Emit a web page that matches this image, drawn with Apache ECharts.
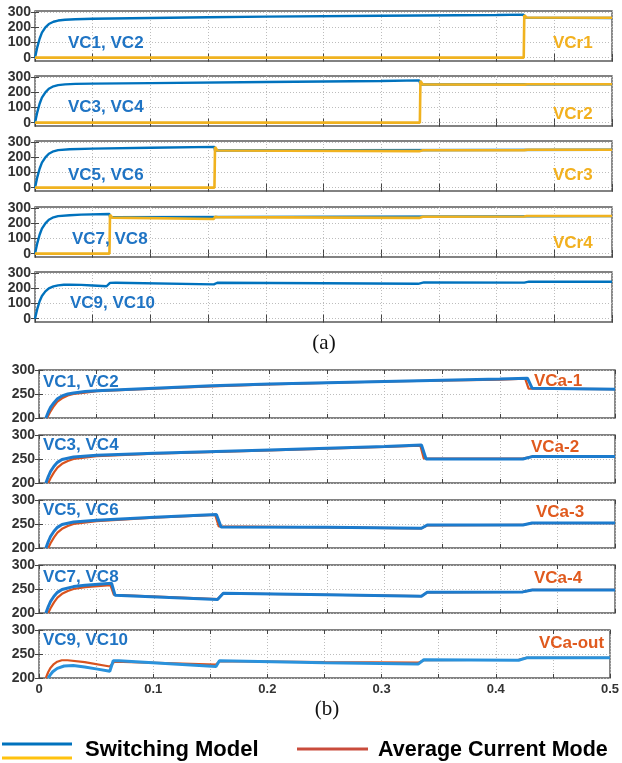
<!DOCTYPE html>
<html><head><meta charset="utf-8">
<script src="https://cdn.jsdelivr.net/npm/echarts@6/dist/echarts.min.js"></script>
<style>html,body{margin:0;padding:0;background:#fff}#c{width:622px;height:763px}</style>
</head><body><div id="c"></div>
<script>
// ---- tick labels ----
const xTickLabels = [0, 0.1, 0.2, 0.3, 0.4, 0.5];
const yTicksA = [0, 100, 200, 300];
const yTicksB = [200, 250, 300];

// ---- panel annotations ----
const namesA = ['VC1, VC2', 'VC3, VC4', 'VC5, VC6', 'VC7, VC8', 'VC9, VC10'];
const namesAr = ['VCr1', 'VCr2', 'VCr3', 'VCr4', ''];
const namesB = ['VC1, VC2', 'VC3, VC4', 'VC5, VC6', 'VC7, VC8', 'VC9, VC10'];
const namesBa = ['VCa-1', 'VCa-2', 'VCa-3', 'VCa-4', 'VCa-out'];
const legendNames = ['Switching Model', 'Average Current Mode'];

// ---- (a) switching model capacitor voltages [t (s), V] ----
const a1Switch = [[0,0],[0.002,70],[0.004,125],[0.006,165],[0.009,200],[0.012,222],[0.016,237],[0.02,245],[0.026,250],[0.035,254],[0.05,257],[0.1,262],[0.15,267],[0.2,271],[0.3,277],[0.4,282],[0.4235,284],[0.424,264],[0.5,262]];
const a1Res = [[0,0],[0.4235,0],[0.424,280],[0.426,265],[0.5,263]];
const a2Switch = [[0,0],[0.002,70],[0.004,125],[0.006,165],[0.009,200],[0.012,224],[0.016,240],[0.02,248],[0.026,253],[0.035,256],[0.05,258],[0.1,261],[0.2,268],[0.3,275],[0.333,279],[0.334,252],[0.5,254]];
const a2Res = [[0,0],[0.3335,0],[0.334,276],[0.336,252],[0.424,251],[0.425,260],[0.427,254],[0.5,254]];
const a3Switch = [[0,0],[0.002,70],[0.004,125],[0.006,165],[0.009,200],[0.012,224],[0.016,240],[0.02,248],[0.03,254],[0.05,258],[0.1,263],[0.1555,269],[0.156,245],[0.5,250]];
const a3Res = [[0,0],[0.1555,0],[0.156,268],[0.158,245],[0.333,241],[0.334,252],[0.336,247],[0.424,248],[0.425,255],[0.427,250],[0.5,250]];
const a4Switch = [[0,0],[0.002,70],[0.004,125],[0.006,165],[0.009,200],[0.012,224],[0.016,240],[0.02,248],[0.03,254],[0.04,258],[0.0645,262],[0.065,240],[0.5,248]];
const a4Res = [[0,0],[0.0645,0],[0.065,256],[0.067,238],[0.155,229],[0.156,243],[0.158,241],[0.333,236],[0.334,247],[0.336,244],[0.424,245],[0.426,249],[0.5,249]];
const a5Switch = [[0,0],[0.002,65],[0.004,115],[0.006,150],[0.009,180],[0.012,200],[0.016,213],[0.02,220],[0.025,224],[0.03,225],[0.04,223],[0.05,219],[0.062,214],[0.065,236],[0.07,237],[0.155,226],[0.158,237],[0.25,234],[0.332,230],[0.337,239],[0.424,238],[0.428,244],[0.5,244]];

// ---- (b) zoomed: switching model vs average current mode [t (s), V] ----
const b1Switch = [[0.006,200],[0.008,212],[0.01,222],[0.013,232],[0.016,240],[0.02,246],[0.025,250],[0.03,252],[0.04,255],[0.05,257],[0.1,262],[0.15,267],[0.2,271],[0.3,276],[0.4,281],[0.424,283],[0.428,262],[0.5,260]];
const b1Avg = [[0.007,200],[0.01,214],[0.013,225],[0.016,234],[0.02,241],[0.025,247],[0.03,250],[0.04,253],[0.05,256],[0.1,261],[0.15,266],[0.2,270],[0.3,276],[0.4,280],[0.422,282],[0.425,261],[0.5,260]];
const b2Switch = [[0.006,200],[0.008,213],[0.01,224],[0.013,235],[0.016,243],[0.02,249],[0.03,254],[0.05,258],[0.1,262],[0.2,269],[0.3,276],[0.332,279],[0.336,250],[0.42,250],[0.428,255],[0.5,255]];
const b2Avg = [[0.008,200],[0.01,210],[0.013,222],[0.016,232],[0.02,240],[0.025,246],[0.03,250],[0.05,256],[0.1,261],[0.2,268],[0.3,275],[0.331,278],[0.334,251],[0.42,251],[0.428,255],[0.5,255]];
const b3Switch = [[0.006,200],[0.008,213],[0.01,224],[0.013,235],[0.016,243],[0.02,249],[0.03,254],[0.05,258],[0.1,264],[0.154,270],[0.158,244],[0.25,243],[0.332,241],[0.337,248],[0.42,248],[0.428,252],[0.5,252]];
const b3Avg = [[0.008,200],[0.01,210],[0.013,222],[0.016,232],[0.02,240],[0.025,246],[0.03,250],[0.05,256],[0.1,263],[0.153,269],[0.156,245],[0.25,243],[0.332,241],[0.337,247],[0.42,248],[0.428,252],[0.5,252]];
const b4Switch = [[0.006,200],[0.008,213],[0.01,224],[0.013,235],[0.016,243],[0.02,249],[0.03,255],[0.04,258],[0.063,262],[0.066,237],[0.155,228],[0.16,241],[0.25,238],[0.332,235],[0.337,243],[0.42,244],[0.428,248],[0.5,248]];
const b4Avg = [[0.008,200],[0.01,210],[0.013,222],[0.016,232],[0.02,240],[0.025,246],[0.03,250],[0.04,254],[0.062,258],[0.065,238],[0.155,229],[0.16,241],[0.25,238],[0.332,235],[0.337,243],[0.42,244],[0.428,248],[0.5,248]];
const b5Switch = [[0.008,200],[0.01,207],[0.012,213],[0.016,220],[0.022,225],[0.03,226],[0.04,223],[0.05,219],[0.062,214],[0.065,236],[0.07,236],[0.155,224],[0.158,236],[0.25,232],[0.332,229],[0.337,238],[0.42,237],[0.427,242],[0.5,242]];
const b5Avg = [[0.006,200],[0.008,212],[0.01,221],[0.013,229],[0.016,234],[0.02,237],[0.025,237],[0.04,233],[0.062,224],[0.066,234],[0.155,228],[0.158,235],[0.25,233],[0.332,232],[0.337,237],[0.42,238],[0.427,242],[0.5,242]];

const seriesA = [[a1Switch, a1Res], [a2Switch, a2Res], [a3Switch, a3Res], [a4Switch, a4Res], [a5Switch, null]];
const seriesB = [[b1Switch, b1Avg], [b2Switch, b2Avg], [b3Switch, b3Avg], [b4Switch, b4Avg], [b5Switch, b5Avg]];

// ---- styling / layout ----
const BLUE = '#0072BD', YEL = '#F0B21F', RED = '#D9531E', BLUE_B = '#1C7BCD';
const TXT_BLUE = '#1f74c4', TXT_YEL = '#F2B01E', TXT_RED = '#E05A1E';
const FONT = '"Liberation Sans", Arial, sans-serif';
const topsA = [11, 76, 141, 207, 272];
const topsB = [370, 435, 500, 565, 630];

const grids = [], xAxes = [], yAxes = [], series = [], graphics = [];
const splitStyle = {color: '#bdbdbd', width: 1, type: [1, 2]};
const tickStyle = {color: '#444', width: 1};

function addPanel(idx, top, h, left, w, ymin, ymax, yt, isLast) {
  grids.push({left: left, top: top, width: w, height: h, show: true, borderColor: '#5a5a5a', borderWidth: 1.4, backgroundColor: '#fff'});
  xAxes.push({type: 'value', gridIndex: idx, position: 'bottom', min: 0, max: 0.5, interval: 0.05,
    axisLine: {show: false}, axisTick: {show: true, inside: true, length: 4, lineStyle: tickStyle},
    axisLabel: {show: isLast, customValues: xTickLabels, formatter: v => String(v), fontWeight: 'bold', fontSize: 13, color: '#333', margin: 5, fontFamily: FONT, showMinLabel: true, showMaxLabel: true},
    splitLine: {show: true, lineStyle: splitStyle}});
  xAxes.push({type: 'value', gridIndex: idx, position: 'top', min: 0, max: 0.5, interval: 0.05,
    axisLine: {show: false}, axisTick: {show: true, inside: true, length: 4, lineStyle: tickStyle},
    axisLabel: {show: false}, splitLine: {show: false}});
  yAxes.push({type: 'value', gridIndex: idx, position: 'left', min: ymin, max: ymax,
    axisLine: {show: false}, axisTick: {show: true, inside: true, length: 4, lineStyle: tickStyle, customValues: yt},
    axisLabel: {customValues: yt, fontWeight: 'bold', fontSize: 14, color: '#333', margin: 4, fontFamily: FONT, showMinLabel: true, showMaxLabel: true},
    splitLine: {show: true, lineStyle: splitStyle}});
  yAxes.push({type: 'value', gridIndex: idx, position: 'right', min: ymin, max: ymax,
    axisLine: {show: false}, axisTick: {show: true, inside: true, length: 4, lineStyle: tickStyle, customValues: yt},
    axisLabel: {show: false}, splitLine: {show: false}});
}

function addLine(idx, data, color, width, z) {
  series.push({type: 'line', xAxisIndex: 2 * idx, yAxisIndex: 2 * idx, data: data, showSymbol: false, symbol: 'none',
    lineStyle: {color: color, width: width}, itemStyle: {color: color}, z: z, animation: false, silent: true});
}

function addText(x, y, text, color, font, align) {
  graphics.push({type: 'text', x: x, y: y, z: 100, style: {text: text, fill: color, font: font, textAlign: align || 'left', textVerticalAlign: 'middle', verticalAlign: 'middle'}});
}

// (a)
const nameYA = [43, 107, 175, 239, 303];
const nameYAr = [43, 114, 175, 243, 0];
for (let i = 0; i < 5; i++) {
  addPanel(i, topsA[i], 50, 35, 577, -22, 308, yTicksA, false);
  addLine(i, seriesA[i][0], BLUE, 2.4, 3);
  if (seriesA[i][1]) addLine(i, seriesA[i][1], YEL, 2.6, 4);
  addText(i === 3 ? 72 : (i === 4 ? 70 : 68), nameYA[i], namesA[i], TXT_BLUE, 'bold 17px ' + FONT);
  if (namesAr[i]) addText(553, nameYAr[i], namesAr[i], TXT_YEL, 'bold 17px ' + FONT);
}
// (b)
const nameYB = [382, 445, 510, 577, 640];
const nameYBa = [381, 447, 512, 578, 643];
const nameXBa = [534, 531, 536, 534, 539];
for (let i = 0; i < 5; i++) {
  const idx = 5 + i;
  addPanel(idx, topsB[i], 48, 39, 576, 200, 300, yTicksB, i === 4);
  addLine(idx, seriesB[i][1], RED, 2.2, 3);
  addLine(idx, seriesB[i][0], i === 4 ? '#2a92dc' : BLUE_B, 3, 4);
  addText(43, nameYB[i], namesB[i], TXT_BLUE, 'bold 17px ' + FONT);
  addText(nameXBa[i], nameYBa[i], namesBa[i], TXT_RED, 'bold 17px ' + FONT);
}

// captions
addText(324, 343, '(a)', '#111', '21px "Liberation Serif", "Times New Roman", serif', 'center');
addText(327, 709, '(b)', '#111', '21px "Liberation Serif", "Times New Roman", serif', 'center');

// legend (drawn as key lines + text)
graphics.push({type: 'line', z: 100, shape: {x1: 2, y1: 744, x2: 72, y2: 744}, style: {stroke: BLUE, lineWidth: 3}});
graphics.push({type: 'line', z: 100, shape: {x1: 2, y1: 758, x2: 72, y2: 758}, style: {stroke: '#FFC20E', lineWidth: 3}});
graphics.push({type: 'line', z: 100, shape: {x1: 297, y1: 749, x2: 368, y2: 749}, style: {stroke: '#C94C3C', lineWidth: 3}});
addText(85, 750, legendNames[0], '#000', 'bold 22px ' + FONT);
addText(378, 750, legendNames[1], '#000', 'bold 21.5px ' + FONT);

const chart = echarts.init(document.getElementById('c'), null, {renderer: 'canvas', width: 622, height: 763});
chart.setOption({
  animation: false,
  backgroundColor: '#fff',
  grid: grids, xAxis: xAxes, yAxis: yAxes, series: series, graphic: graphics
});
</script></body></html>
